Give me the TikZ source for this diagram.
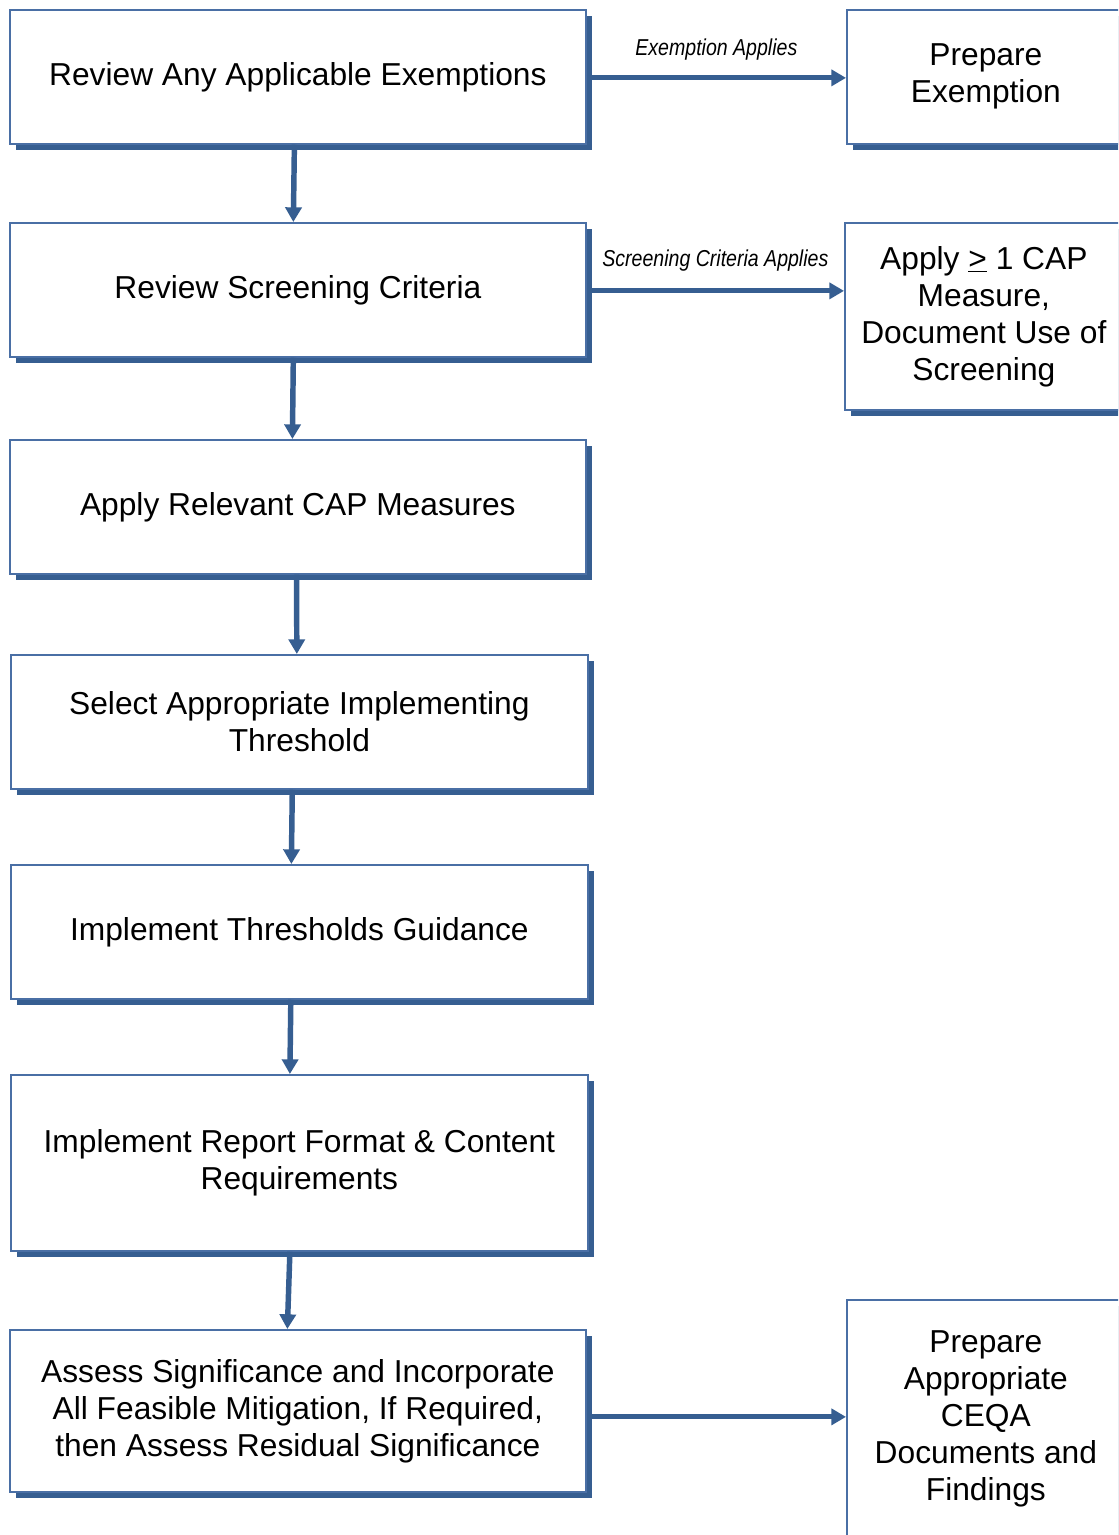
\documentclass[tikz,border=0pt]{standalone}
\usepackage{fontspec}
\setmainfont{Liberation Sans}
\usetikzlibrary{arrows.meta,shadows}
\definecolor{borderblue}{RGB}{74,111,165}
\definecolor{shadowblue}{RGB}{54,94,145}
\tikzset{
  box/.style={draw=borderblue, line width=1.3pt, fill=white, inner sep=0pt,
    anchor=north west, align=center,
    font=\fontsize{23.8pt}{27.75pt}\selectfont,
    general shadow={fill=shadowblue, shadow xshift=4.5pt, shadow yshift=-4.5pt}},
  varr/.style={draw=shadowblue, line width=4.1pt, -{Triangle[length=11pt,width=12pt]}},
  harr/.style={draw=shadowblue, line width=3.6pt, -{Triangle[length=11pt,width=12pt]}},
  lbl/.style={font=\fontsize{17.25pt}{19pt}\selectfont\itshape, inner sep=0pt}
}
\begin{document}
\begin{tikzpicture}[x=0.75pt,y=-0.75pt]
\useasboundingbox (0,0) rectangle (1118,1535);
\clip (0,0) rectangle (1118,1535);
\fill[white] (0,0) rectangle (1118,1535);

\node[box, minimum width=432pt, minimum height=100.5pt] (b1) at (9,9) {Review Any Applicable Exemptions};
\node[box, minimum width=432pt, minimum height=100.5pt] (b2) at (9,222) {Review Screening Criteria};
\node[box, minimum width=432pt, minimum height=100.5pt] (b3) at (9,439) {Apply Relevant CAP Measures};
\node[box, minimum width=432.75pt, minimum height=100.5pt] (b4) at (10,654) {Select Appropriate Implementing\\Threshold};
\node[box, minimum width=432.75pt, minimum height=100.5pt] (b5) at (10,864) {Implement Thresholds Guidance};
\node[box, minimum width=432.75pt, minimum height=132pt] (b6) at (10,1074) {Implement Report Format \& Content\\Requirements};
\node[box, minimum width=432pt, minimum height=121.5pt] (b7) at (9,1329) {Assess Significance and Incorporate\\All Feasible Mitigation, If Required,\\then Assess Residual Significance};

\node[box, minimum width=208.5pt, minimum height=100.5pt] (r1) at (846,9) {Prepare\\Exemption};
\node[box, minimum width=208.5pt, minimum height=140.25pt] (r2) at (844,222) {Apply \underline{>} 1 CAP\\Measure,\\Document Use of\\Screening};
\node[box, minimum width=208.5pt, minimum height=178.5pt] (r3) at (846,1299) {Prepare\\Appropriate\\CEQA\\Documents and\\Findings};

\draw[varr] ([xshift=-2.6pt]b1.south) -- ([xshift=-3.4pt]b2.north);
\draw[varr] ([xshift=-3.4pt]b2.south) -- ([xshift=-4.1pt]b3.north);
\draw[varr] ([xshift=-1pt]b3.south) -- ([xshift=-1.9pt]b4.north);
\draw[varr] ([xshift=-5.3pt]b4.south) -- ([xshift=-6pt]b5.north);
\draw[varr] ([xshift=-6.4pt]b5.south) -- ([xshift=-7.1pt]b6.north);
\draw[varr] ([xshift=-7.1pt]b6.south) -- ([xshift=-7.9pt]b7.north);

\draw[harr] ([yshift=-0.75pt]b1.east) -- ([yshift=-0.75pt]b1.east -| r1.west)
  node[lbl, midway, yshift=21pt] {\scalebox{0.85}[1]{Exemption Applies}};
\draw[harr] ([yshift=-0.75pt]b2.east) -- ([yshift=-0.75pt]b2.east -| r2.west)
  node[lbl, midway, yshift=22.5pt] {\scalebox{0.85}[1]{Screening Criteria Applies}};
\draw[harr] ([yshift=-4.5pt]b7.east) -- ([yshift=-4.5pt]b7.east -| r3.west);
\end{tikzpicture}
\end{document}
